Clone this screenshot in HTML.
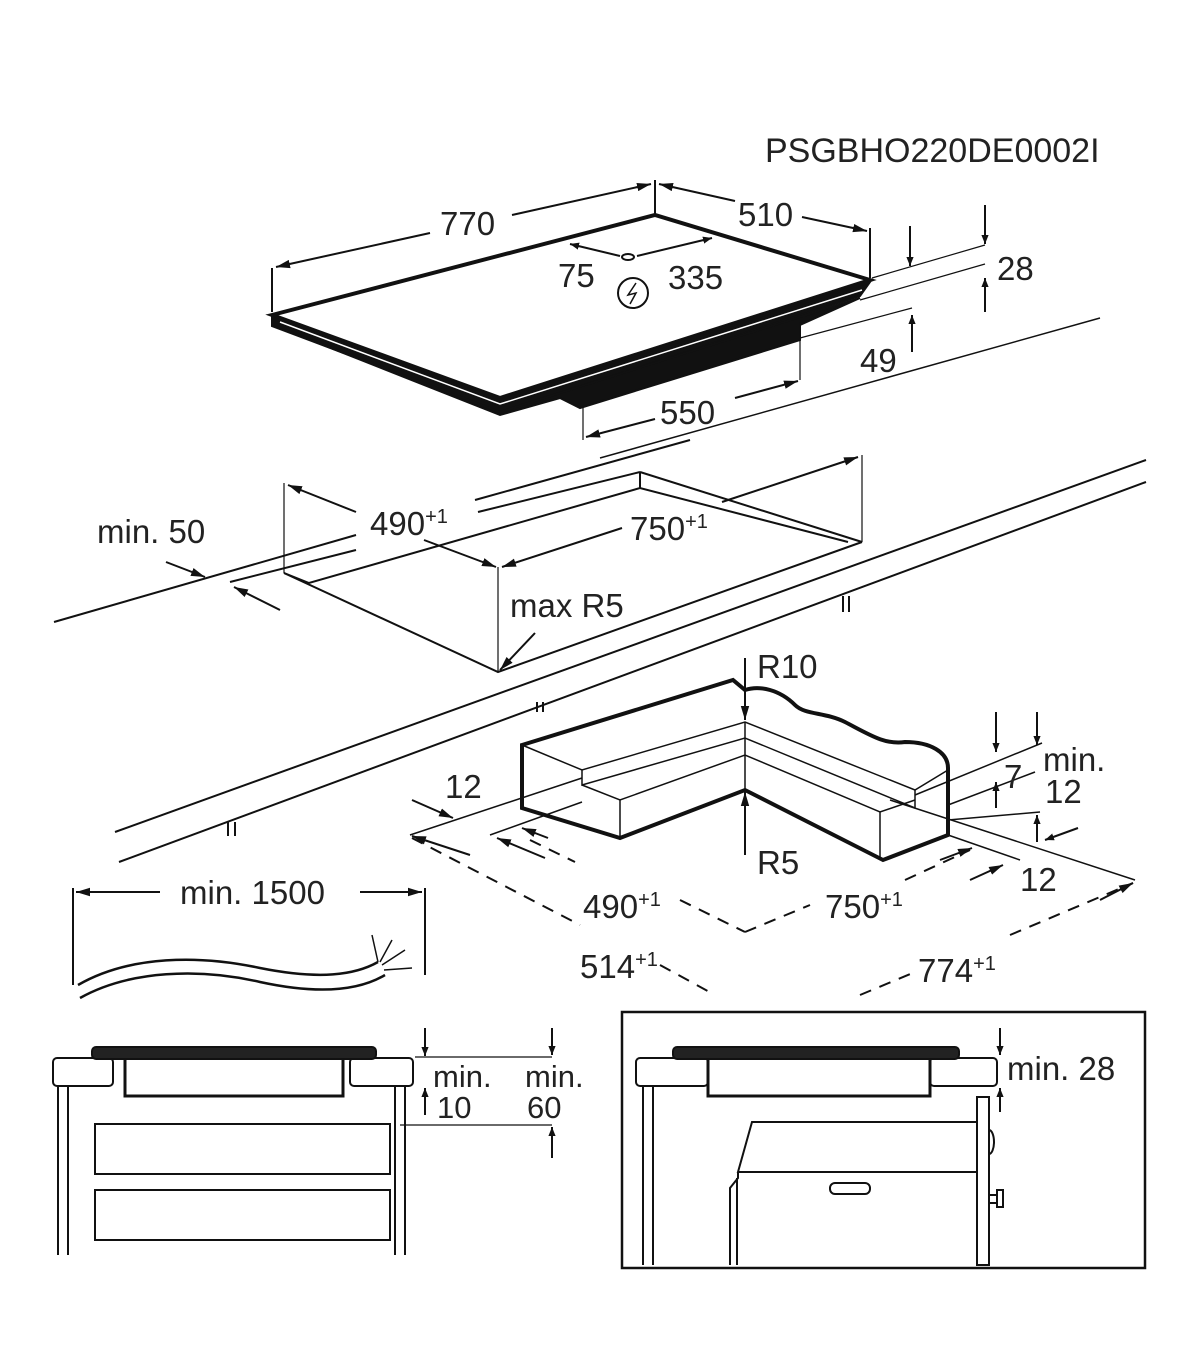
<!DOCTYPE html>
<html><head><meta charset="utf-8"><style>
html,body{margin:0;padding:0;background:#fff;}
svg{display:block;}
text{font-family:"Liberation Sans",Arial,sans-serif;fill:#222;}
</style></head><body>
<svg width="1200" height="1372" viewBox="0 0 1200 1372" xmlns="http://www.w3.org/2000/svg">
<defs>
<marker id="a" viewBox="0 0 10 10" refX="10" refY="5" markerWidth="9" markerHeight="9" orient="auto-start-reverse" markerUnits="userSpaceOnUse"><path d="M0,1 L10,5 L0,9 z" fill="#111"/></marker>
<marker id="b" viewBox="0 0 10 10" refX="10" refY="5" markerWidth="14" markerHeight="14" orient="auto-start-reverse" markerUnits="userSpaceOnUse"><path d="M0,2 L10,5 L0,8 z" fill="#111"/></marker>
</defs>
<text x="765" y="162" font-size="34">PSGBHO220DE0002I</text>

<!-- HOB -->
<g stroke="#111" fill="none">
<polygon points="272,315 655,215 870,280 500,398" stroke-width="4" fill="#fff"/>
<polygon points="272,315 272,326 500,412 860,296 870,282 500,398" fill="#111" stroke-width="2"/>
<polyline points="280,322 500,404 862,290" stroke="#fff" stroke-width="1.5"/>
<polygon points="285,330 500,415 560,398 580,408 800,340 800,325 860,298 500,412" fill="#111" stroke-width="2"/>
<g stroke-width="2">
<line x1="272" y1="268" x2="272" y2="312"/><line x1="655" y1="180" x2="655" y2="214"/><line x1="870" y1="228" x2="870" y2="278"/>
<line x1="276" y1="267" x2="430" y2="233" marker-start="url(#b)"/><line x1="512" y1="215" x2="651" y2="184" marker-end="url(#b)"/>
<line x1="659" y1="184" x2="735" y2="201" marker-start="url(#b)"/><line x1="802" y1="217" x2="867" y2="231" marker-end="url(#b)"/>
<line x1="570" y1="244" x2="620" y2="256" marker-start="url(#a)"/><line x1="637" y1="256" x2="712" y2="238" marker-end="url(#a)"/>
<ellipse cx="628" cy="257" rx="6" ry="3"/>
<circle cx="633" cy="293" r="15"/>
<path d="M636,283 L628,295 L636,293 L630,304" stroke-width="1.5"/>
<line x1="872" y1="278" x2="985" y2="245" stroke-width="1.2"/><line x1="860" y1="300" x2="985" y2="264" stroke-width="1.2"/>
<line x1="910" y1="226" x2="910" y2="266" marker-end="url(#a)"/><line x1="985" y1="205" x2="985" y2="244" marker-end="url(#a)"/>
<line x1="985" y1="312" x2="985" y2="278" marker-end="url(#a)"/>
<line x1="800" y1="338" x2="912" y2="308" stroke-width="1.2"/>
<line x1="912" y1="352" x2="912" y2="315" marker-end="url(#a)"/>
<line x1="800" y1="322" x2="800" y2="380" stroke-width="1.2"/><line x1="583" y1="405" x2="583" y2="440" stroke-width="1.2"/>
<line x1="586" y1="437" x2="655" y2="419" marker-start="url(#b)"/><line x1="735" y1="398" x2="798" y2="381" marker-end="url(#b)"/>
<line x1="600" y1="458" x2="1100" y2="318" stroke-width="1.5"/>
</g>
</g>
<g font-size="33">
<text x="440" y="235">770</text><text x="738" y="226">510</text>
<text x="558" y="287">75</text><text x="668" y="289">335</text>
<text x="997" y="280">28</text><text x="860" y="372">49</text>
<text x="660" y="424">550</text>
</g>

<!-- COUNTERTOP / CUTOUT -->
<g stroke="#111" fill="none" stroke-width="2">
<line x1="54" y1="622" x2="356" y2="535"/>
<line x1="230" y1="582" x2="356" y2="550"/>
<line x1="475" y1="500" x2="690" y2="440"/>
<line x1="478" y1="512" x2="640" y2="472"/>
<polyline points="284,573 498,672 862,542"/>
<polyline points="284,573 309,583 640,488 848,542"/>
<polyline points="640,472 862,542"/>
<line x1="640" y1="472" x2="640" y2="488"/>
<line x1="284" y1="483" x2="284" y2="573" stroke-width="1.2"/>
<line x1="862" y1="455" x2="862" y2="542" stroke-width="1.2"/>
<line x1="498" y1="567" x2="498" y2="672" stroke-width="1.2"/>
<line x1="115" y1="832" x2="1146" y2="460"/><line x1="119" y1="862" x2="1146" y2="482"/>
<line x1="288" y1="485" x2="356" y2="512" marker-start="url(#b)"/><line x1="424" y1="540" x2="496" y2="567" marker-end="url(#b)"/>
<line x1="502" y1="567" x2="622" y2="528" marker-start="url(#b)"/><line x1="722" y1="502" x2="858" y2="457" marker-end="url(#b)"/>
<line x1="166" y1="562" x2="205" y2="577" marker-end="url(#b)"/>
<line x1="280" y1="610" x2="234" y2="587" marker-end="url(#b)"/>
<line x1="535" y1="633" x2="500" y2="670" marker-end="url(#b)"/>
<line x1="843" y1="596" x2="843" y2="612"/><line x1="849" y1="596" x2="849" y2="612"/>
<line x1="537" y1="702" x2="537" y2="712"/><line x1="543" y1="702" x2="543" y2="712"/>
<line x1="228" y1="822" x2="228" y2="836"/><line x1="235" y1="822" x2="235" y2="836"/>
</g>
<g font-size="33">
<text x="97" y="543">min. 50</text>
<text x="370" y="535">490<tspan font-size="20" dy="-12">+1</tspan></text>
<text x="630" y="540">750<tspan font-size="20" dy="-12">+1</tspan></text>
<text x="510" y="617">max R5</text>
</g>

<!-- CORNER BLOCK -->
<g stroke="#111" fill="none">
<path d="M522,745 L733,680 L745,690 C760,685 780,690 795,705 C805,715 825,712 845,722 C870,735 885,745 905,742 C930,742 948,752 948,768 L948,835 L883,860 L745,790 L620,838 L522,808 Z" stroke-width="4" fill="#fff"/>
<g stroke-width="1.5">
<polyline points="522,745 582,770 745,722 915,790 948,770"/>
<polyline points="582,770 582,785 745,738 915,808"/>
<polyline points="582,785 620,800 745,755 880,812 915,800"/>
<line x1="620" y1="800" x2="620" y2="838"/><line x1="880" y1="812" x2="880" y2="860"/>
<line x1="745" y1="738" x2="745" y2="790"/><line x1="745" y1="722" x2="745" y2="738"/>
<line x1="915" y1="790" x2="915" y2="808"/>
<line x1="410" y1="835" x2="582" y2="778"/>
<line x1="490" y1="835" x2="582" y2="802"/>
<line x1="915" y1="795" x2="1042" y2="743"/><line x1="948" y1="805" x2="1035" y2="772"/>
<line x1="948" y1="820" x2="1040" y2="812"/>
<line x1="890" y1="800" x2="1135" y2="880"/>
<line x1="948" y1="835" x2="1020" y2="860"/>
</g>
<g stroke-width="2">
<line x1="745" y1="658" x2="745" y2="720" marker-end="url(#b)"/>
<line x1="745" y1="855" x2="745" y2="792" marker-end="url(#b)"/>
<line x1="412" y1="800" x2="453" y2="818" marker-end="url(#b)"/>
<line x1="996" y1="712" x2="996" y2="752" marker-end="url(#a)"/>
<line x1="1037" y1="712" x2="1037" y2="745" marker-end="url(#a)"/>
<line x1="996" y1="808" x2="996" y2="782" marker-end="url(#a)"/>
<line x1="1037" y1="842" x2="1037" y2="815" marker-end="url(#a)"/>
<line x1="1078" y1="828" x2="1045" y2="840" marker-end="url(#a)"/>
<line x1="545" y1="858" x2="497" y2="838" marker-end="url(#b)"/>
<line x1="548" y1="838" x2="522" y2="828" marker-end="url(#b)"/>
<line x1="970" y1="880" x2="1003" y2="865" marker-end="url(#b)"/>
<line x1="940" y1="860" x2="972" y2="848" marker-end="url(#b)"/>
<line x1="470" y1="855" x2="412" y2="836" marker-end="url(#b)"/>
<line x1="1100" y1="900" x2="1133" y2="883" marker-end="url(#b)"/>
</g>
<g stroke-width="2" stroke-dasharray="12,9">
<line x1="412" y1="838" x2="580" y2="925"/>
<line x1="660" y1="965" x2="715" y2="995"/>
<line x1="860" y1="995" x2="915" y2="972"/>
<line x1="1010" y1="935" x2="1133" y2="883"/>
<line x1="530" y1="840" x2="575" y2="862"/>
<line x1="680" y1="900" x2="745" y2="932"/>
<line x1="745" y1="932" x2="810" y2="905"/>
<line x1="905" y1="880" x2="970" y2="850"/>
</g>
</g>
<g font-size="33">
<text x="757" y="678">R10</text><text x="757" y="874">R5</text>
<text x="445" y="798">12</text>
<text x="1004" y="788">7</text><text x="1043" y="771">min.</text><text x="1045" y="803">12</text>
<text x="1020" y="891">12</text>
<text x="583" y="918">490<tspan font-size="20" dy="-12">+1</tspan></text>
<text x="825" y="918">750<tspan font-size="20" dy="-12">+1</tspan></text>
<text x="580" y="978">514<tspan font-size="20" dy="-12">+1</tspan></text>
<text x="918" y="982">774<tspan font-size="20" dy="-12">+1</tspan></text>
</g>

<!-- CABLE -->
<g stroke="#111" fill="none" stroke-width="2">
<line x1="73" y1="888" x2="73" y2="985"/><line x1="425" y1="888" x2="425" y2="975"/>
<line x1="160" y1="892" x2="76" y2="892" marker-end="url(#b)"/>
<line x1="360" y1="892" x2="422" y2="892" marker-end="url(#b)"/>
<path d="M78,985 C130,955 200,955 260,968 C320,980 355,975 378,962" stroke-width="2.5"/>
<path d="M80,998 C130,970 200,968 260,982 C320,995 360,990 385,975" stroke-width="2.5"/>
<path d="M378,962 L372,935 M380,962 L392,940 M382,965 L405,950 M384,970 L412,968" stroke-width="1.5"/>
</g>
<text x="180" y="904" font-size="33">min. 1500</text>

<!-- BOTTOM LEFT -->
<g stroke="#111" fill="#fff" stroke-width="2">
<rect x="53" y="1058" width="60" height="28" rx="4"/>
<rect x="350" y="1058" width="63" height="28" rx="4"/>
<rect x="125" y="1058" width="218" height="38" stroke-width="3"/>
<rect x="92" y="1047" width="284" height="12" rx="4" fill="#222" stroke-width="2"/>
<rect x="95" y="1124" width="295" height="50" fill="none"/>
<rect x="95" y="1190" width="295" height="50" fill="none"/>
<g fill="none">
<line x1="58" y1="1086" x2="58" y2="1255"/><line x1="68" y1="1086" x2="68" y2="1255"/>
<line x1="395" y1="1086" x2="395" y2="1255"/><line x1="405" y1="1086" x2="405" y2="1255"/>
<line x1="415" y1="1057" x2="552" y2="1057" stroke-width="1.2"/>
<line x1="400" y1="1125" x2="552" y2="1125" stroke-width="1.2"/>
<line x1="425" y1="1028" x2="425" y2="1056" marker-end="url(#a)"/>
<line x1="425" y1="1115" x2="425" y2="1088" marker-end="url(#a)"/>
<line x1="552" y1="1028" x2="552" y2="1055" marker-end="url(#a)"/>
<line x1="552" y1="1158" x2="552" y2="1127" marker-end="url(#a)"/>
</g>
</g>
<g font-size="31">
<text x="433" y="1087">min.</text><text x="437" y="1118">10</text>
<text x="525" y="1087">min.</text><text x="527" y="1118">60</text>
</g>

<!-- BOTTOM RIGHT -->
<g stroke="#111" fill="#fff" stroke-width="2">
<rect x="622" y="1012" width="523" height="256" fill="none" stroke-width="2.5"/>
<rect x="636" y="1058" width="72" height="28" rx="4"/>
<rect x="930" y="1058" width="67" height="28" rx="4"/>
<rect x="708" y="1058" width="222" height="38" stroke-width="3"/>
<rect x="673" y="1047" width="286" height="12" rx="4" fill="#222"/>
<g fill="none">
<line x1="643" y1="1086" x2="643" y2="1265"/><line x1="653" y1="1086" x2="653" y2="1265"/>
<rect x="977" y="1097" width="12" height="168"/>
<polyline points="977,1122 752,1122 738,1172 977,1172"/>
<polyline points="738,1172 738,1178 730,1188 730,1265"/>
<line x1="737" y1="1178" x2="737" y2="1265"/>
<rect x="830" y="1183" width="40" height="11" rx="5"/>
<path d="M989,1130 a5,12 0 0 1 0,24"/>
<rect x="989" y="1195" width="8" height="8"/><rect x="997" y="1190" width="6" height="17"/>
<line x1="1000" y1="1028" x2="1000" y2="1055" marker-end="url(#a)"/>
<line x1="1000" y1="1112" x2="1000" y2="1088" marker-end="url(#a)"/>
</g>
</g>
<text x="1007" y="1080" font-size="33">min. 28</text>
</svg>
</body></html>
